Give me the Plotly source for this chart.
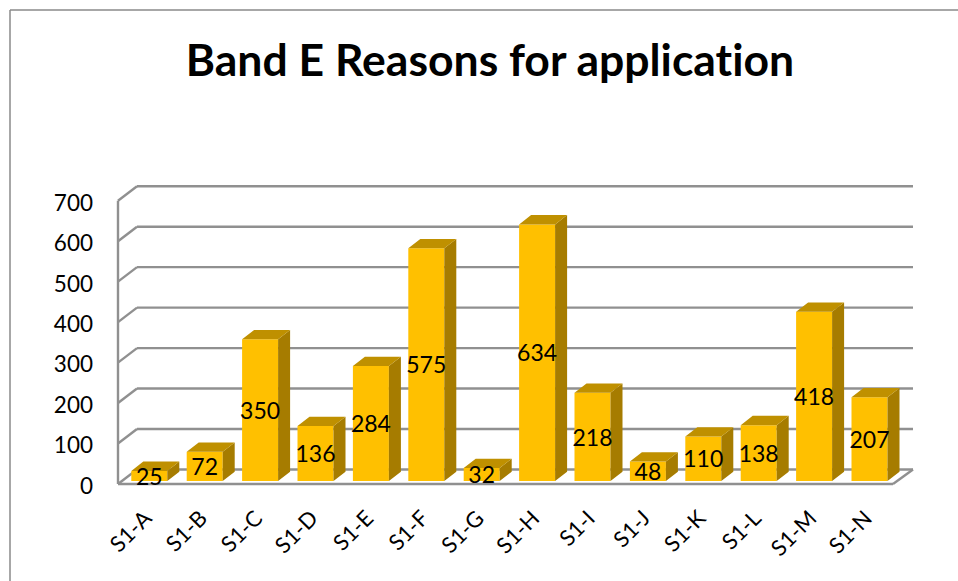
import plotly.graph_objects as go

categories = ["S1-A","S1-B","S1-C","S1-D","S1-E","S1-F","S1-G","S1-H","S1-I","S1-J","S1-K","S1-L","S1-M","S1-N"]
values = [25,72,350,136,284,575,32,634,218,48,110,138,418,207]
y_ticks = [0,100,200,300,400,500,600,700]

W, H = 958, 581
L, R, T, B = 98, 930, 175, 492   # plot domain in pixels
PX_PER_CAT = 55.4
PX_PER_VAL = 0.4047
X0_PX = 149.3   # centre of the first category
Y0_PX = 481.0   # bar baseline

x_range = [(L - X0_PX) / PX_PER_CAT, (R - X0_PX) / PX_PER_CAT]
y_range = [(Y0_PX - B) / PX_PER_VAL, (Y0_PX - T) / PX_PER_VAL]

def dx(p): return p / PX_PER_CAT
def dy(p): return p / PX_PER_VAL
def xpx(p): return (p - X0_PX) / PX_PER_CAT

GREY = "#909090"
BAR_W = 36 / PX_PER_CAT
DEPTH_X, DEPTH_Y = dx(12), dy(9.3)
FRONT_OFF = dy(-3)    # front wall sits below the bar baseline
BACK_OFF = dy(11.5)
WALL_L, WALL_L_BACK = xpx(118), xpx(137)
WALL_R_FRONT, WALL_R = xpx(893), xpx(913)

shapes = []
def seg(x0, y0, x1, y1):
    shapes.append(dict(type="line", xref="x", yref="y", x0=x0, y0=y0, x1=x1, y1=y1,
                       layer="below", line=dict(color=GREY, width=2.4)))

for v in y_ticks:
    seg(WALL_L, v + FRONT_OFF, WALL_L_BACK, v + BACK_OFF)
    seg(WALL_L_BACK, v + BACK_OFF, WALL_R, v + BACK_OFF)
seg(WALL_L, FRONT_OFF, WALL_L, y_ticks[-1] + FRONT_OFF)
seg(WALL_L, FRONT_OFF, WALL_R_FRONT, FRONT_OFF)
seg(WALL_R_FRONT, FRONT_OFF, WALL_R, BACK_OFF)

# outer chart frame (left and top edges)
frame_x = lambda p: (p - L) / (R - L)
frame_y = lambda p: (B - p) / (B - T)
for x0, y0, x1, y1 in [(10, 10, 10, 581), (10, 10, 958, 10)]:
    shapes.append(dict(type="line", xref="paper", yref="paper",
                       x0=frame_x(x0), y0=frame_y(y0), x1=frame_x(x1), y1=frame_y(y1),
                       layer="below", line=dict(color="#8a8a8a", width=1.5)))

side_x, side_y, top_x, top_y = [], [], [], []
for i, v in enumerate(values):
    xr = i + BAR_W / 2
    xl = i - BAR_W / 2
    side_x += [xr, xr + DEPTH_X, xr + DEPTH_X, xr, xr, None]
    side_y += [0, DEPTH_Y, v + DEPTH_Y, v, 0, None]
    top_x += [xl, xl + DEPTH_X, xr + DEPTH_X, xr, xl, None]
    top_y += [v, v + DEPTH_Y, v + DEPTH_Y, v, v, None]

xs = list(range(len(values)))
LABEL_NUDGE = dy(-3)
fig = go.Figure()
fig.add_trace(go.Bar(x=xs, y=values, width=BAR_W,
                     marker=dict(color="#FFC000", line=dict(width=0))))
fig.add_trace(go.Scatter(x=side_x, y=side_y, mode="lines", fill="toself",
                         fillcolor="#A67C00", line=dict(width=0), hoverinfo="skip"))
fig.add_trace(go.Scatter(x=top_x, y=top_y, mode="lines", fill="toself",
                         fillcolor="#BF9000", line=dict(width=0), hoverinfo="skip"))
fig.add_trace(go.Scatter(x=xs, y=[v / 2 + LABEL_NUDGE for v in values], mode="text",
                         text=[str(v) for v in values], textposition="middle center",
                         cliponaxis=False, hoverinfo="skip",
                         textfont=dict(family="Lato", size=23, color="black")))

fig.update_layout(
    width=W, height=H, showlegend=False,
    margin=dict(l=L, r=W - R, t=T, b=H - B, pad=0),
    paper_bgcolor="white", plot_bgcolor="white",
    shapes=shapes,
    title=dict(text="<b>Band E Reasons for application</b>", x=490 / W, xanchor="center",
               y=1 - 60 / H, yanchor="middle",
               font=dict(family="Lato", size=44.5, color="black")),
    xaxis=dict(range=x_range, tickmode="array", tickvals=xs,
               ticktext=categories, tickangle=-45, showgrid=False, zeroline=False,
               showline=False, ticks="", automargin=False,
               ticklabelstandoff=8, ticklabelshift=-4,
               tickfont=dict(family="Lato", size=22, color="black")),
    yaxis=dict(range=y_range, tickmode="array", tickvals=[v + FRONT_OFF for v in y_ticks],
               ticktext=[str(v) for v in y_ticks], showgrid=False, zeroline=False,
               showline=False, ticks="", automargin=False,
               ticklabelstandoff=4, ticklabelshift=2,
               tickfont=dict(family="Lato", size=22.5, color="black")),
)
fig.write_html("out.html", config={"displayModeBar": False},
               post_script="document.body.style.margin='0';"
                           "var s=document.createElement('style');"
                           "s.textContent='text{font-variant-ligatures:none !important;font-feature-settings:\"liga\" 0 !important}';"
                           "document.head.appendChild(s);")
